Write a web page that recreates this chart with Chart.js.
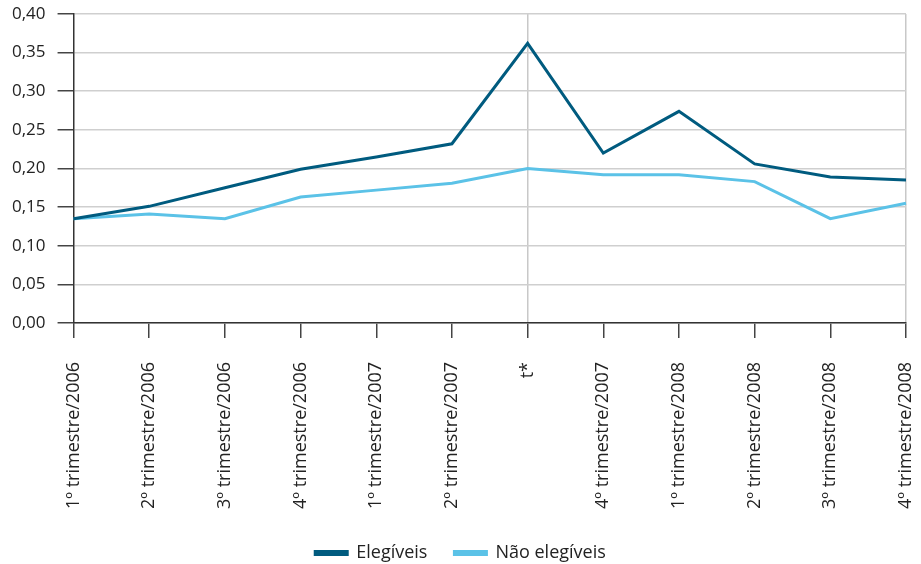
<!DOCTYPE html>
<html>
<head>
<meta charset="utf-8">
<script src="https://cdn.jsdelivr.net/npm/chart.js@4.4.1/dist/chart.umd.min.js"></script>
<style>
  html, body { margin: 0; padding: 0; background: #fff; }
  #wrap { width: 921px; height: 564px; position: relative; }
</style>
</head>
<body>
<div id="wrap"><canvas id="c"></canvas></div>
<script>
// Quarters shown on the horizontal axis (t* marks the reference quarter)
const categories = [
  '1º trimestre/2006', '2º trimestre/2006', '3º trimestre/2006', '4º trimestre/2006',
  '1º trimestre/2007', '2º trimestre/2007', 't*', '4º trimestre/2007',
  '1º trimestre/2008', '2º trimestre/2008', '3º trimestre/2008', '4º trimestre/2008'
];
const elegiveis = [0.135, 0.151, 0.175, 0.199, 0.215, 0.232, 0.362, 0.220, 0.274, 0.206, 0.189, 0.185];
const naoElegiveis = [0.135, 0.141, 0.135, 0.163, 0.172, 0.181, 0.200, 0.192, 0.192, 0.183, 0.135, 0.155];
const seriesNames = ['Elegíveis', 'Não elegíveis'];
const yTicks = { min: 0, max: 0.40, step: 0.05 };

const FONT = '"Open Sans", "Noto Sans", sans-serif';
const dark = '#005b7f';
const light = '#5bc2e7';
const tIndex = categories.indexOf('t*');

new Chart(document.getElementById('c'), {
  type: 'line',
  data: {
    labels: categories,
    datasets: [
      { label: seriesNames[0], data: elegiveis, borderColor: dark, backgroundColor: dark,
        borderWidth: 3, pointRadius: 0, tension: 0, fill: false },
      { label: seriesNames[1], data: naoElegiveis, borderColor: light, backgroundColor: light,
        borderWidth: 3, pointRadius: 0, tension: 0, fill: false }
    ]
  },
  options: {
    responsive: true,
    maintainAspectRatio: false,
    animation: false,
    layout: { padding: { top: 0, right: 0, left: 0, bottom: -8 } },
    plugins: {
      tooltip: { enabled: false },
      legend: {
        position: 'bottom',
        labels: {
          font: { family: FONT, size: 18 },
          color: '#222',
          boxWidth: 32,
          boxHeight: 3,
          padding: 27
        }
      }
    },
    scales: {
      x: {
        offset: false,
        border: { color: '#333', width: 1.5 },
        afterFit: (scale) => { scale.height -= 16; scale.paddingRight = 15; },
        grid: {
          drawOnChartArea: true,
          color: (ctx) => (ctx.index === tIndex || ctx.index === categories.length - 1) ? '#c8c8c8' : 'rgba(0,0,0,0)',
          tickColor: '#444',
          tickLength: 15,
          lineWidth: 1.5
        },
        ticks: {
          font: { family: FONT, size: 18 },
          color: '#222',
          maxRotation: 90,
          minRotation: 90,
          autoSkip: false,
          padding: 24
        }
      },
      y: {
        min: yTicks.min,
        max: yTicks.max,
        border: { color: '#333', width: 1.5 },
        afterFit: (scale) => { scale.paddingTop = 14; },
        grid: {
          color: '#cfcfcf',
          tickColor: '#444',
          tickLength: 16,
          lineWidth: 1.5
        },
        ticks: {
          stepSize: yTicks.step,
          font: { family: FONT, size: 17 },
          color: '#222',
          padding: 12,
          callback: (v) => v.toFixed(2).replace('.', ',')
        }
      }
    }
  }
});
</script>
</body>
</html>
